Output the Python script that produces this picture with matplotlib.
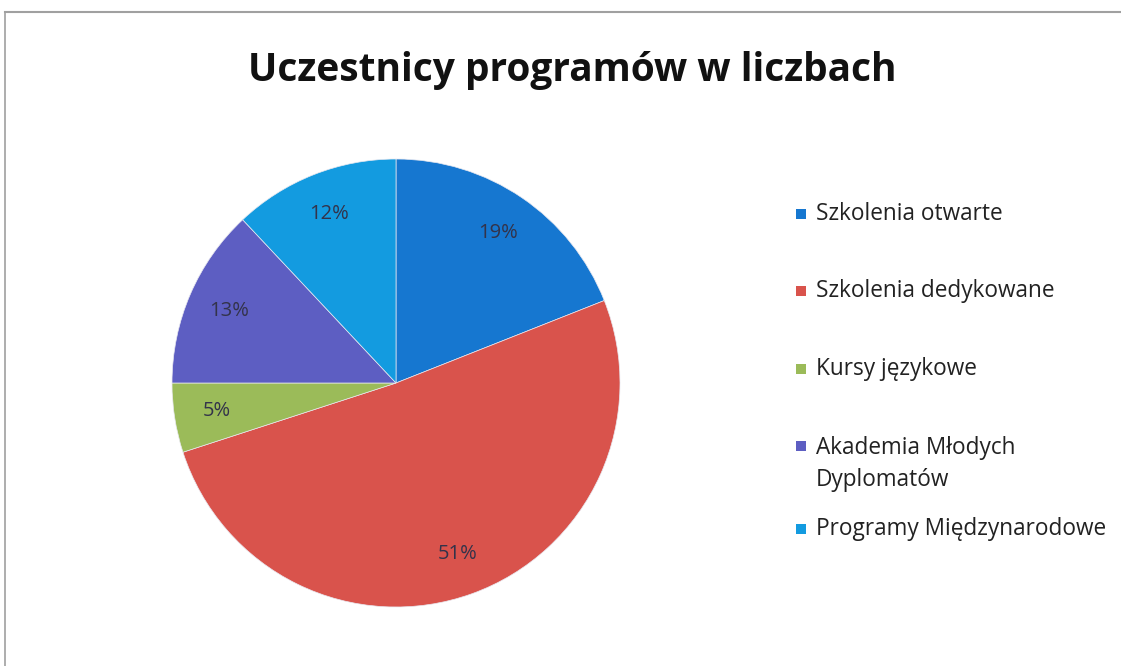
import matplotlib
matplotlib.use("Agg")
import matplotlib.pyplot as plt
from matplotlib.patches import Rectangle
from matplotlib.lines import Line2D

categories = ["Szkolenia otwarte", "Szkolenia dedykowane", "Kursy językowe",
              "Akademia Młodych\nDyplomatów", "Programy Międzynarodowe"]
values = [19, 51, 5, 13, 12]
colors = ["#1677D0", "#D9534C", "#9BBB59", "#5D5EC2", "#139BE0"]
title = "Uczestnicy programów w liczbach"

plt.rcParams['font.family'] = ['Open Sans', 'DejaVu Sans']

W, H = 1121, 666
fig = plt.figure(figsize=(W / 100, H / 100), dpi=100)
fig.patch.set_facecolor("white")

# frame lines (top and left edge of chart area)
fig.add_artist(Line2D([5 / W, 1], [1 - 12 / H, 1 - 12 / H], color="#A0A0A0", lw=1.5))
fig.add_artist(Line2D([5 / W, 5 / W], [0, 1 - 12 / H], color="#A0A0A0", lw=1.2))

# pie axes: center (396,383), radius 224
cx, cy, r = 396, 383, 224
ax = fig.add_axes([(cx - r) / W, 1 - (cy + r) / H, 2 * r / W, 2 * r / H])
wedges, texts, autotexts = ax.pie(
    values, colors=colors, startangle=90, counterclock=False,
    autopct=lambda p: f"{p:.0f}%", pctdistance=0.81,
    wedgeprops=dict(linewidth=0.5, edgecolor="#E8E8F0"),
    textprops=dict(fontsize=14.5, color="#33334A"))
ax.set_xlim(-1, 1)
ax.set_ylim(-1, 1)
ax.set_aspect("auto")
ax.axis("off")

fig.text(572 / W, 1 - 70 / H, title, ha="center", va="center",
         fontsize=28, fontweight="bold", color="#111111")

# legend drawn manually
leg_y = [214, 291, 369, 446, 529]
fs = 16.3
for lab, col, y in zip(categories, colors, leg_y):
    fig.add_artist(Rectangle((796 / W, 1 - (y + 5) / H), 10 / W, 10 / H,
                             facecolor=col, edgecolor="none"))
    if "\n" in lab:
        fig.text(816 / W, 1 - (y - 10) / H, lab, ha="left", va="top",
                 fontsize=fs, color="#222222", linespacing=1.45)
    else:
        fig.text(816 / W, 1 - y / H, lab, ha="left", va="center",
                 fontsize=fs, color="#222222")

fig.savefig("out.png", dpi=100)
